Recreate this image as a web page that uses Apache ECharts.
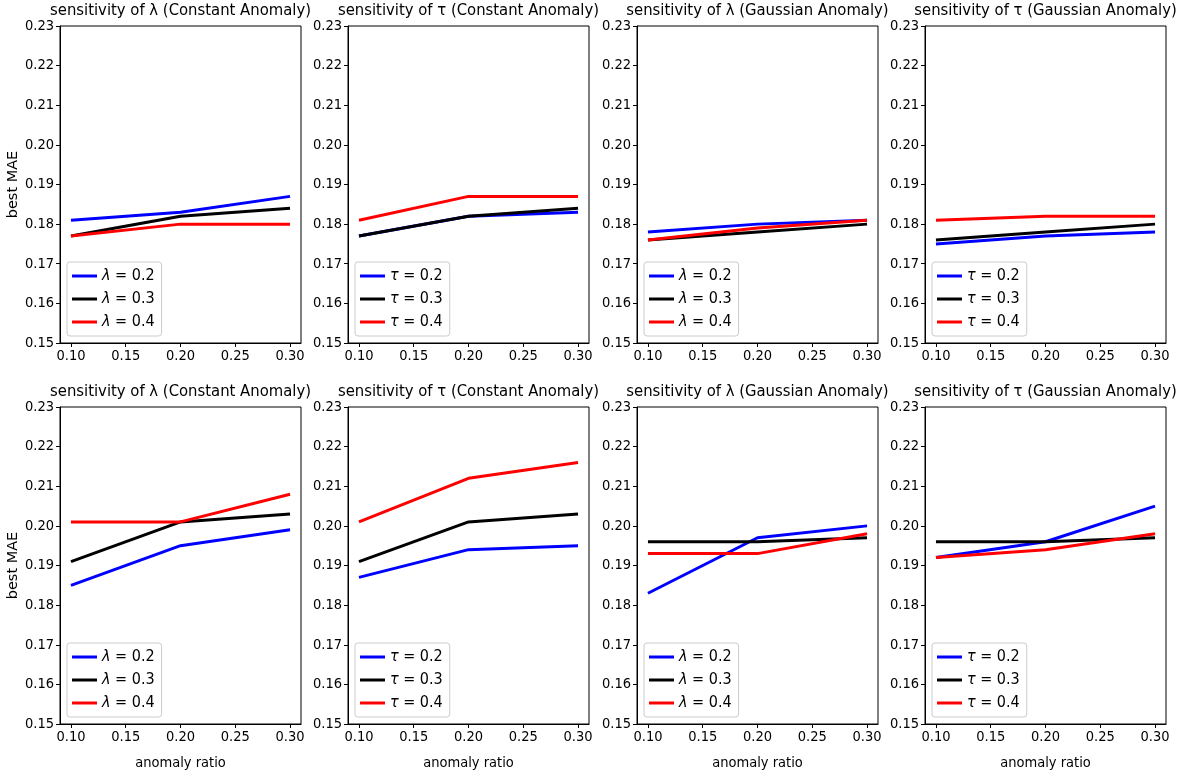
<!DOCTYPE html>
<html>
<head>
<meta charset="utf-8">
<script src="https://cdn.jsdelivr.net/npm/echarts@6/dist/echarts.min.js"></script>
<style>
  html, body { margin: 0; padding: 0; background: #fff; }
  #chart { width: 1182px; height: 776px; }
</style>
</head>
<body>
<div id="chart"></div>
<script>
// anomaly ratio on x
const ratios = [0.1, 0.2, 0.3];
const xTicks = [0.1, 0.15, 0.2, 0.25, 0.3];

// panel titles, row by row
const titles = [
  'sensitivity of λ (Constant Anomaly)',
  'sensitivity of τ (Constant Anomaly)',
  'sensitivity of λ (Gaussian Anomaly)',
  'sensitivity of τ (Gaussian Anomaly)',
  'sensitivity of λ (Constant Anomaly)',
  'sensitivity of τ (Constant Anomaly)',
  'sensitivity of λ (Gaussian Anomaly)',
  'sensitivity of τ (Gaussian Anomaly)',
];
const lambdaNames = ['λ = 0.2', 'λ = 0.3', 'λ = 0.4'];
const tauNames = ['τ = 0.2', 'τ = 0.3', 'τ = 0.4'];

// best MAE, one array per line (0.2 / 0.3 / 0.4)
const p1_02 = [0.181, 0.183, 0.187];
const p1_03 = [0.177, 0.182, 0.184];
const p1_04 = [0.177, 0.180, 0.180];

const p2_02 = [0.177, 0.182, 0.183];
const p2_03 = [0.177, 0.182, 0.184];
const p2_04 = [0.181, 0.187, 0.187];

const p3_02 = [0.178, 0.180, 0.181];
const p3_03 = [0.176, 0.178, 0.180];
const p3_04 = [0.176, 0.179, 0.181];

const p4_02 = [0.175, 0.177, 0.178];
const p4_03 = [0.176, 0.178, 0.180];
const p4_04 = [0.181, 0.182, 0.182];

const p5_02 = [0.185, 0.195, 0.199];
const p5_03 = [0.191, 0.201, 0.203];
const p5_04 = [0.201, 0.201, 0.208];

const p6_02 = [0.187, 0.194, 0.195];
const p6_03 = [0.191, 0.201, 0.203];
const p6_04 = [0.201, 0.212, 0.216];

const p7_02 = [0.183, 0.197, 0.200];
const p7_03 = [0.196, 0.196, 0.197];
const p7_04 = [0.193, 0.193, 0.198];

const p8_02 = [0.192, 0.196, 0.205];
const p8_03 = [0.196, 0.196, 0.197];
const p8_04 = [0.192, 0.194, 0.198];

const panels = [
  [p1_02, p1_03, p1_04],
  [p2_02, p2_03, p2_04],
  [p3_02, p3_03, p3_04],
  [p4_02, p4_03, p4_04],
  [p5_02, p5_03, p5_04],
  [p6_02, p6_03, p6_04],
  [p7_02, p7_03, p7_04],
  [p8_02, p8_03, p8_04],
];

const colors = ['#0000ff', '#000000', '#ff0000'];
const font = "'DejaVu Sans Condensed', 'Liberation Sans Narrow', 'DejaVu Sans', sans-serif";

// layout of the 2x4 grid
const colLeft = [60, 348, 637, 925];
const rowTop = [26, 407];
const plotW = 241;
const plotH = 317;

const option = {
  animation: false,
  backgroundColor: '#ffffff',
  textStyle: { fontFamily: font },
  title: [],
  legend: [],
  grid: [],
  xAxis: [],
  yAxis: [],
  series: [],
};

panels.forEach((lines, i) => {
  const row = Math.floor(i / 4);
  const col = i % 4;
  const left = colLeft[col];
  const top = rowTop[row];
  const names = col % 2 === 0 ? lambdaNames : tauNames;

  option.grid.push({
    left: left,
    top: top,
    width: plotW,
    height: plotH,
    show: true,
    borderColor: '#000',
    borderWidth: 1,
    backgroundColor: 'transparent',
  });

  option.title.push({
    text: titles[i],
    left: left + plotW / 2,
    top: top - 24,
    textAlign: 'center',
    padding: 0,
    textStyle: { fontFamily: font, fontSize: 16.5, fontWeight: 'normal', color: '#000' },
  });

  option.xAxis.push({
    type: 'value',
    gridIndex: i,
    min: 0.09,
    max: 0.31,
    name: row === 1 ? 'anomaly ratio' : '',
    nameLocation: 'middle',
    nameGap: 32,
    nameTextStyle: { fontFamily: font, fontSize: 14.5, color: '#000' },
    axisLine: { show: true, lineStyle: { color: '#000', width: 1 } },
    axisTick: { show: true, length: 4, customValues: xTicks, lineStyle: { color: '#000' } },
    axisLabel: {
      customValues: xTicks,
      formatter: (v) => v.toFixed(2),
      color: '#000',
      fontSize: 14.5,
      fontFamily: font,
      margin: 6,
    },
    splitLine: { show: false },
  });

  option.yAxis.push({
    type: 'value',
    gridIndex: i,
    min: 0.15,
    max: 0.23,
    interval: 0.01,
    name: col === 0 ? 'best MAE' : '',
    nameLocation: 'middle',
    nameGap: 39,
    nameTextStyle: { fontFamily: "'DejaVu Sans', sans-serif", fontSize: 14.5, color: '#000' },
    axisLine: { show: true, lineStyle: { color: '#000', width: 1 } },
    axisTick: { show: true, length: 4, lineStyle: { color: '#000' } },
    axisLabel: {
      formatter: (v) => v.toFixed(2),
      color: '#000',
      fontSize: 14.5,
      fontFamily: font,
      margin: 6,
    },
    splitLine: { show: false },
  });

  option.legend.push({
    data: names,
    orient: 'vertical',
    left: left + 7,
    top: top + 236,
    padding: [6, 7, 6, 5],
    itemGap: 7,
    itemWidth: 25,
    itemHeight: 3,
    icon: 'rect',
    backgroundColor: 'rgba(255,255,255,0.8)',
    borderColor: '#cccccc',
    borderWidth: 1,
    borderRadius: 3,
    selectedMode: false,
    formatter: (name) => name.replace(/^(λ|τ)/, '{i|$1}'),
    textStyle: {
      fontFamily: font,
      fontSize: 16,
      lineHeight: 16,
      color: '#000',
      rich: { i: { fontFamily: font, fontSize: 16, lineHeight: 16, fontStyle: 'italic', color: '#000' } },
    },
  });

  lines.forEach((vals, k) => {
    option.series.push({
      name: names[k],
      type: 'line',
      xAxisIndex: i,
      yAxisIndex: i,
      data: ratios.map((r, j) => [r, vals[j]]),
      symbol: 'none',
      lineStyle: { color: colors[k], width: 3 },
      itemStyle: { color: colors[k] },
    });
  });
});

const mychart = echarts.init(document.getElementById('chart'));
mychart.setOption(option);
</script>
</body>
</html>
